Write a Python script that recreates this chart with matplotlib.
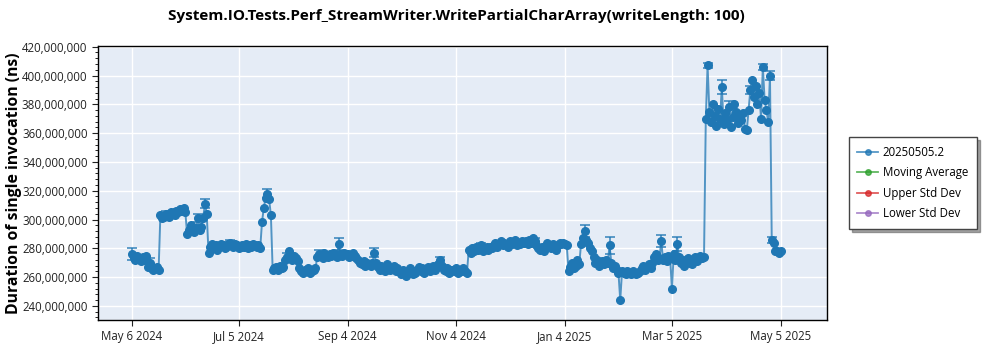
import numpy as np
import pandas as pd
import matplotlib
matplotlib.use("Agg")
import matplotlib.pyplot as plt
import matplotlib.dates as mdates
from matplotlib.ticker import FuncFormatter, AutoMinorLocator
from matplotlib.lines import Line2D

plt.rcParams['font.family'] = ['Open Sans', 'DejaVu Sans']

title = "System.IO.Tests.Perf_StreamWriter.WritePartialCharArray(writeLength: 100)"
series_name = "20250505.2"
first_day = "2024-05-06"

# one run per day, duration in millions of ns
duration_m = [
    276, 273, 272, 275, 273, 271, 274, 272, 275, 267,
    270, 266, 265, 266, 267, 265, 303, 301, 302, 304,
    303, 302, 305, 304, 303, 306, 305, 307, 306, 308,
    305, 290, 293, 296, 292, 291, 294, 301, 293, 295,
    301, 311, 304, 277, 281, 283, 280, 282, 279, 281,
    283, 282, 280, 281, 283, 284, 282, 281, 283, 282,
    280, 281, 282, 281, 283, 280, 282, 281, 283, 282,
    281, 282, 280, 298, 308, 315, 318, 314, 303, 265,
    266, 267, 265, 268, 266, 267, 272, 274, 278, 273,
    272, 275, 273, 271, 266, 264, 263, 265, 264, 266,
    263, 264, 265, 266, 274, 276, 275, 273, 277, 275,
    274, 276, 275, 277, 276, 274, 283, 276, 275, 277,
    276, 276, 274, 275, 277, 275, 273, 272, 270, 269,
    271, 268, 270, 269, 268, 270, 277, 270, 267, 265,
    268, 266, 264, 269, 267, 265, 266, 268, 264, 266,
    264, 262, 265, 263, 261, 263, 266, 264, 262, 263,
    265, 267, 264, 266, 263, 265, 267, 264, 266, 268,
    265, 267, 269, 272, 268, 265, 264, 266, 263, 265,
    265, 264, 266, 263, 265, 264, 266, 264, 263, 279,
    277, 280, 278, 281, 279, 280, 282, 278, 280, 281,
    279, 281, 280, 282, 284, 281, 283, 285, 282, 284,
    283, 281, 285, 283, 284, 286, 282, 284, 283, 285,
    284, 285, 283, 286, 284, 287, 285, 282, 280, 279,
    281, 278, 280, 284, 282, 280, 283, 281, 279, 282,
    284, 283, 284, 283, 282, 264, 267, 270, 266, 268,
    272, 269, 283, 287, 292, 286, 284, 280, 278, 274,
    270, 272, 268, 270, 271, 269, 272, 270, 282, 270,
    266, 268, 265, 263, 244, 264, 263, 262, 264, 263,
    262, 264, 263, 262, 263, 264, 266, 268, 265, 267,
    269, 266, 270, 274, 276, 272, 273, 285, 272, 274,
    271, 275, 273, 252, 276, 272, 283, 274, 270, 272,
    268, 271, 273, 270, 269, 272, 274, 271, 273, 275,
    273, 274, 370, 407, 375, 368, 380, 372, 365, 377,
    370, 392, 366, 374, 369, 378, 364, 371, 380, 375,
    367, 372, 369, 374, 363, 362, 376, 390, 397, 385,
    393, 380, 388, 370, 406, 383, 376, 368, 400, 286,
    284, 278, 278, 277, 278,
]

# runs whose spread sticks out of the band (day index, std dev in millions of ns)
err_days = [0, 10, 19, 26, 37, 41, 55, 76, 87, 105, 116, 136, 173, 196,
            208, 226, 254, 268, 297, 306, 323, 331, 335, 347, 354, 358, 359]
err_m = [4, 3, 2, 2, 3, 3, 2, 3, 3, 3, 4, 3, 2, 2,
         2, 2, 4, 6, 4, 5, 2, 5, 4, 3, 2, 3, 2]

tick_dates = ["2024-05-06", "2024-07-05", "2024-09-04", "2024-11-04",
              "2025-01-04", "2025-03-05", "2025-05-05"]
legend_labels = [series_name, "Moving Average", "Upper Std Dev", "Lower Std Dev"]
legend_colors = ["#1f77b4", "#2ca02c", "#d62728", "#9467bd"]

dates = pd.date_range(first_day, periods=len(duration_m), freq="D")
values = np.array(duration_m, dtype=float) * 1e6

fig = plt.figure(figsize=(10, 3.5), dpi=100)
ax = fig.add_axes([0.098, 0.086, 0.729, 0.783])
ax.set_facecolor("#e5ecf6")

ax.plot(dates, values, color="#1f77b4", lw=1.4, alpha=0.75, zorder=3)
ax.plot(dates, values, ls="none", marker="o", ms=5.5, color="#1f77b4", zorder=4)
ax.errorbar(dates[err_days], values[err_days], yerr=np.array(err_m) * 1e6,
            fmt="none", ecolor="#1f77b4", elinewidth=1.4, capsize=3.5, capthick=1.4,
            alpha=0.7, zorder=3)

ax.set_ylim(230.3e6, 420.6e6)
ax.set_xlim(pd.Timestamp("2024-04-17"), pd.Timestamp("2025-05-31"))
ax.set_yticks(np.arange(240e6, 421e6, 20e6))
ax.yaxis.set_major_formatter(FuncFormatter(lambda v, p: f"{v:,.0f}"))
ax.yaxis.set_minor_locator(AutoMinorLocator(5))
ax.set_xticks(pd.to_datetime(tick_dates))
ax.xaxis.set_major_formatter(FuncFormatter(
    lambda v, p: (lambda d: f"{d:%b} {d.day} {d.year}")(mdates.num2date(v))))

ax.grid(True, which="major", color="white", lw=1.0)
ax.set_axisbelow(True)
ax.tick_params(axis="both", labelsize=8.3, colors="#222222", length=4)
ax.tick_params(axis="y", which="minor", length=2)
for s in ax.spines.values():
    s.set_color("black")
    s.set_linewidth(1.0)

ax.set_ylabel("Duration of single invocation (ns)", fontsize=11.3, fontweight="bold")
ax.yaxis.set_label_coords(-0.104, 0.5)
fig.suptitle(title, x=0.456, y=0.975, fontsize=11, fontweight="bold")

handles = [Line2D([0], [0], color=c, lw=1.3, alpha=0.75, marker="o", ms=4,
                  markerfacecolor=c, markeredgecolor=c) for c in legend_colors]
leg = ax.legend(handles, legend_labels, loc="center left", bbox_to_anchor=(1.022, 0.5),
                fontsize=8.3, frameon=True, fancybox=False, shadow=True,
                edgecolor="#444444", framealpha=1, borderpad=0.75, labelspacing=0.65,
                handlelength=1.75, handletextpad=0.45)
leg.get_frame().set_linewidth(1.0)

fig.savefig("out.png", dpi=100)
